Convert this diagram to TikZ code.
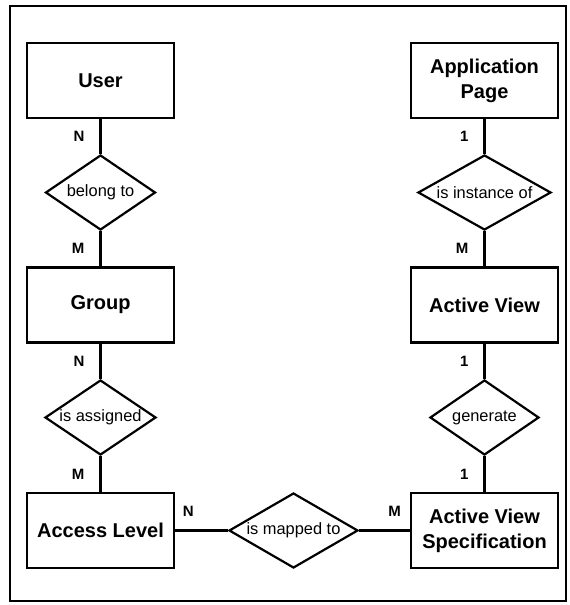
\documentclass[tikz,border=0pt]{standalone}
\usepackage{fontspec}
\setmainfont{Liberation Sans}
\usetikzlibrary{shapes.geometric}
\tikzstyle{node_entity} = [rectangle, draw, line width=1.1pt, minimum width=73.5pt, minimum height=37.5pt, inner sep=0pt, align=center, font=\fontsize{10}{12.5}\selectfont\bfseries]
\tikzstyle{node_relation} = [diamond, draw, line width=1.1pt, inner sep=0pt, aspect=1.75, minimum height=37.5pt, font=\fontsize{8.2}{10}\selectfont]
\tikzstyle{node_card} = [inner sep=0pt, font=\fontsize{7.5}{8}\selectfont\bfseries]
\tikzstyle{edge_normal} = [line width=1.1pt]

\begin{document}
\begin{tikzpicture}[x=0.5pt, y=-0.5pt]
			\useasboundingbox (0,0) rectangle (569,605);
			\draw[line width=1pt] (10,6) rectangle (566,601);

			\node (U) at (100.5,80.5) [node_entity] {User};
			\node (BT) at (100.5,192.5) [node_relation, minimum width=55pt] {belong to};
			\node (G) at (100.5,305) [node_entity] {Group};
			\node (IA) at (100.5,417.5) [node_relation, minimum width=55.5pt] {is assigned};
			\node (AL) at (100.5,530.5) [node_entity] {Access Level};
			\node (MT) at (293.5,530.5) [node_relation, minimum width=64.5pt] {is mapped to};
			\node (AP) at (484.5,80.5) [node_entity] {Application\\Page};
			\node (IO) at (484.5,192.5) [node_relation, minimum width=66.5pt] {is instance of};
			\node (AV) at (484.5,305) [node_entity] {Active View};
			\node (GE) at (484.5,417.5) [node_relation, minimum width=54.5pt] {generate};
			\node (AVS) at (484.5,530.5) [node_entity] {Active View\\Specification};

			\draw[edge_normal] (U) -- node[node_card, left=7.5pt] {N} (BT) -- node[node_card, left=7.5pt] {M} (G);
			\draw[edge_normal] (G) -- node[node_card, left=7.5pt] {N} (IA) -- node[node_card, left=7.5pt] {M} (AL);
			\draw[edge_normal] (AL) -- node[node_card, pos=0.25, above=6.5pt] {N} (MT) -- node[node_card, pos=0.7, above=6.5pt] {M} (AVS);
			\draw[edge_normal] (AP) -- node[node_card, left=7.5pt] {1} (IO) -- node[node_card, left=7.5pt] {M} (AV);
			\draw[edge_normal] (AV) -- node[node_card, left=7.5pt] {1} (GE) -- node[node_card, left=7.5pt] {1} (AVS);
		\end{tikzpicture}
\end{document}
